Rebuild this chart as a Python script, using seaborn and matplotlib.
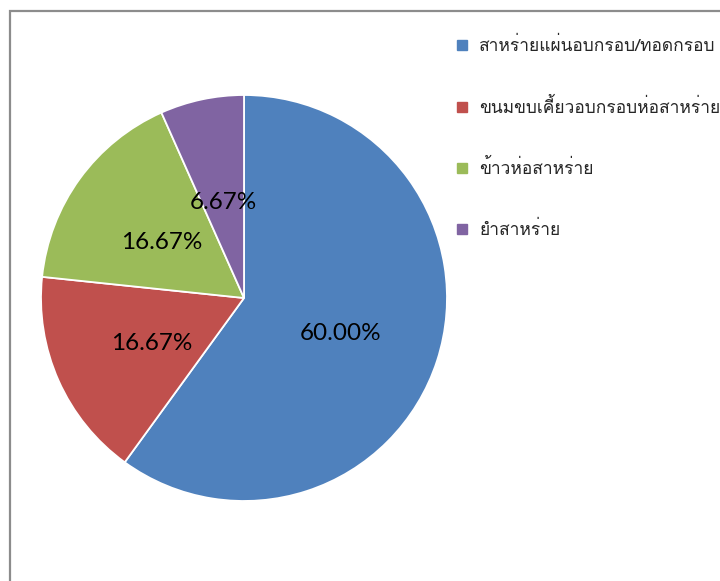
import matplotlib
matplotlib.use("Agg")
import matplotlib.pyplot as plt
from matplotlib import font_manager
from matplotlib.lines import Line2D
from matplotlib.patches import Rectangle
from matplotlib.transforms import offset_copy
import seaborn as sns

# Snack product share
categories = [
    "สาหร่ายแผ่นอบกรอบ/ทอดกรอบ",
    "ขนมขบเคี้ยวอบกรอบห่อสาหร่าย",
    "ข้าวห่อสาหร่าย",
    "ยำสาหร่าย",
]
shares = [60.00, 16.67, 16.67, 6.67]
colors = ["#4F81BD", "#C0504D", "#9BBB59", "#8064A2"]

sns.set_theme(style="white")


def thai_family():
    """Return the name of an installed font that covers Thai script."""
    try:
        from fontTools.ttLib import TTFont
    except Exception:
        return None
    for f in font_manager.fontManager.ttflist:
        try:
            tt = TTFont(f.fname, fontNumber=0, lazy=True)
            cmap = tt.getBestCmap()
            if cmap and 0x0E2A in cmap and 0x0E48 in cmap:
                return f.name
        except Exception:
            continue
    return None


thai = thai_family()
families = ([thai] if thai else []) + ["DejaVu Sans"]
plt.rcParams["font.family"] = families

fig = plt.figure(figsize=(7.2, 5.81), dpi=100)
W, H = 720, 581

# chart-area frame (left and top edges visible)
fig.add_artist(Rectangle((10 / W, -0.1), 1.2, (H - 11) / H + 0.1,
                         transform=fig.transFigure, fill=False,
                         edgecolor="#8c8c8c", linewidth=1.6))

cx, cy, r = 244, 298, 203
ax = fig.add_axes([(cx - r) / W, (H - cy - r) / H, 2 * r / W, 2 * r / H])
wedges, texts = ax.pie(
    shares,
    colors=colors,
    startangle=90,
    counterclock=False,
    labels=[f"{v:.2f}%" for v in shares],
    labeldistance=0.5,
    wedgeprops=dict(edgecolor="white", linewidth=1.3),
    textprops=dict(fontsize=17.5, color="black", family=["Lato", "DejaVu Sans"],
                   ha="center", va="center"),
)
for t in texts:
    t.set_horizontalalignment("center")
    t.set_transform(offset_copy(ax.transData, fig=fig, x=0, y=-4, units="dots"))
ax.set_xlim(-1, 1)
ax.set_ylim(-1, 1)
ax.set_aspect("equal")
ax.axis("off")

handles = [Line2D([], [], marker="s", linestyle="none", markersize=7.5,
                  markerfacecolor=c, markeredgecolor=c) for c in colors]
fig.legend(handles, categories, loc="upper left",
           bbox_to_anchor=(455 / W, 1 - 37 / H), frameon=False,
           fontsize=12.5, labelspacing=2.45, handlelength=0.8,
           handletextpad=0.6, borderaxespad=0, borderpad=0)

fig.savefig("out.png", dpi=100)
